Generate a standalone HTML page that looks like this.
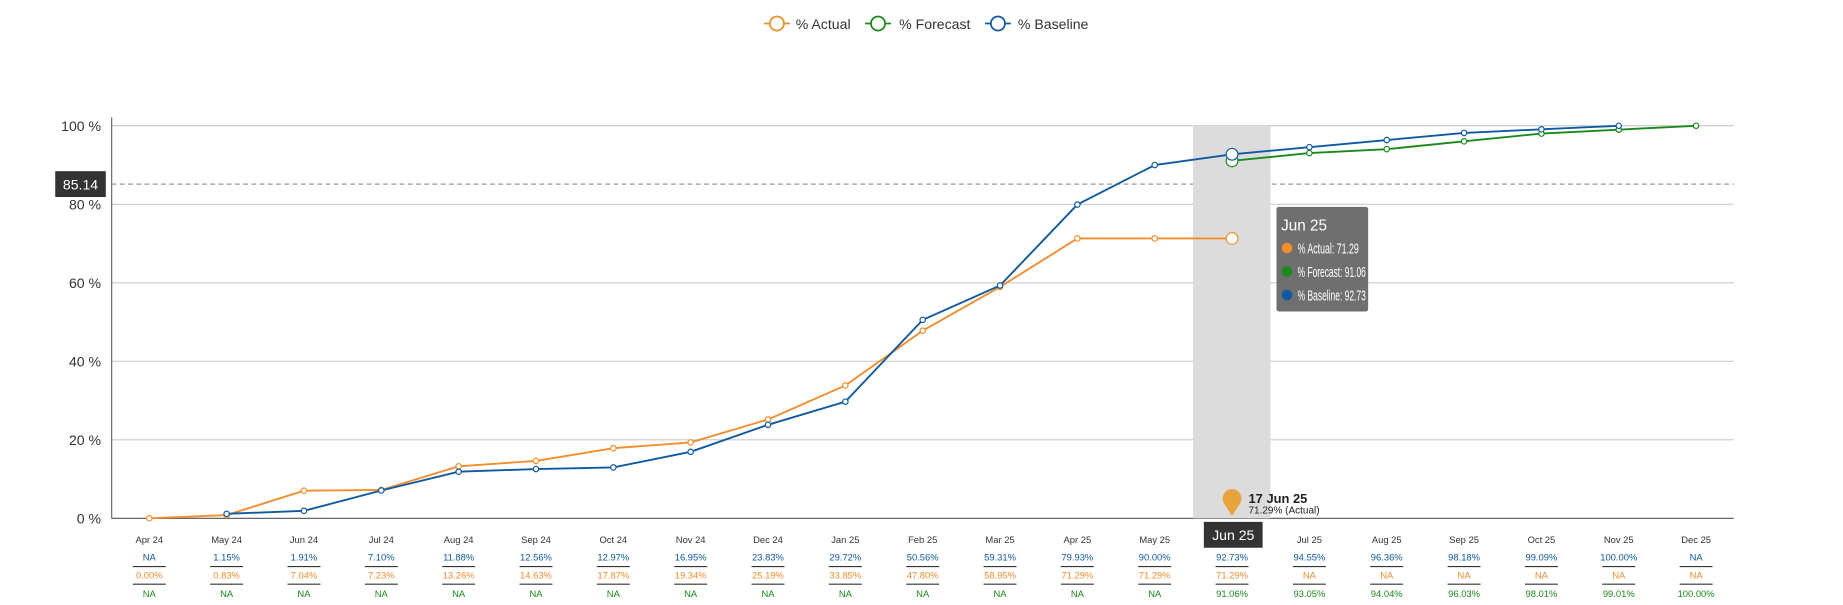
<!DOCTYPE html>
<html><head><meta charset="utf-8">
<style>
body{margin:0;background:#fff;font-family:"Liberation Sans",sans-serif;}
svg text{font-family:"Liberation Sans",sans-serif;}
</style></head>
<body>
<svg id="chart" width="1843" height="600" xmlns="http://www.w3.org/2000/svg">
<g transform="scale(1.1754)">
<g id="legend">
  <g><line x1="650" y1="20" x2="672" y2="20" stroke="#f28e2b" stroke-width="1.5"/><circle cx="661" cy="20" r="6" fill="#fff" stroke="#f28e2b" stroke-width="1.5"/><text x="677" y="24.5" font-size="12" fill="#333">% Actual</text></g>
  <g><line x1="736" y1="20" x2="758" y2="20" stroke="#1a8a1a" stroke-width="1.5"/><circle cx="747" cy="20" r="6" fill="#fff" stroke="#1a8a1a" stroke-width="1.5"/><text x="765" y="24.5" font-size="12" fill="#333">% Forecast</text></g>
  <g><line x1="838" y1="20" x2="860" y2="20" stroke="#0f5aa0" stroke-width="1.5"/><circle cx="849" cy="20" r="6" fill="#fff" stroke="#0f5aa0" stroke-width="1.5"/><text x="866" y="24.5" font-size="12" fill="#333">% Baseline</text></g>
</g>
<g id="grid"></g>
<rect x="1015" y="107" width="66" height="334" fill="#dcdcdc"/>
<g id="series"></g>
<g id="table"></g>
</g>
</svg>
<script>
const categories=["Apr 24","May 24","Jun 24","Jul 24","Aug 24","Sep 24","Oct 24","Nov 24","Dec 24","Jan 25","Feb 25","Mar 25","Apr 25","May 25","Jun 25","Jul 25","Aug 25","Sep 25","Oct 25","Nov 25","Dec 25"];
const actual=[0,0.83,7.04,7.23,13.26,14.63,17.87,19.34,25.19,33.85,47.80,58.95,71.29,71.29,71.29,null,null,null,null,null,null];
const forecast=[null,null,null,null,null,null,null,null,null,null,null,null,null,null,91.06,93.05,94.04,96.03,98.01,99.01,100];
const baseline=[null,1.15,1.91,7.10,11.88,12.56,12.97,16.95,23.83,29.72,50.56,59.31,79.93,90.00,92.73,94.55,96.36,98.18,99.09,100,null];
const yTicks=[0,20,40,60,80,100];
const refValue=85.14;
const hoverIndex=14;

const NS="http://www.w3.org/2000/svg";
const x=i=>127+i*65.8;
const y=v=>441-v*3.34;
function mk(tag,attrs,parent,txt){const e=document.createElementNS(NS,tag);for(const k in attrs)e.setAttribute(k,attrs[k]);if(txt!=null)e.textContent=txt;parent.appendChild(e);return e;}
const grid=document.getElementById('grid');
yTicks.forEach(t=>{
  const l=mk('line',{x1:95,x2:1475,y1:y(t),y2:y(t),stroke:t===0?'#666':'#ccc','stroke-width':1},grid);
  
  
  const tx=mk('text',{x:86,y:y(t)+4.5,'text-anchor':'end','font-size':12,fill:'#333'},grid,t+' %');
  
  
});
const ax=mk('line',{x1:95,x2:95,y1:100,y2:441,stroke:'#666'},grid);


const rl=mk('line',{x1:95,x2:1475,y1:y(refValue),y2:y(refValue),stroke:'#999','stroke-dasharray':'4,3'},grid);


const rb=mk('rect',{x:47,y:y(refValue)-11,width:43,height:22,fill:'#333'},grid);


const rt=mk('text',{x:68.5,y:y(refValue)+4.5,'text-anchor':'middle','font-size':12,fill:'#fff'},grid,refValue.toFixed(2));



const ser=document.getElementById('series');
function drawSeries(arr,color,name){
  let d='';arr.forEach((v,i)=>{if(v==null)return;d+=(d?'L':'M')+x(i)+','+y(v);});
  const p=mk('path',{d:d,fill:'none',stroke:color,'stroke-width':1.6},ser);
  
  
  arr.forEach((v,i)=>{if(v==null)return;const big=i===hoverIndex;
    const c=mk('circle',{cx:x(i),cy:y(v),r:big?5:2.3,fill:'#fff',stroke:color,'stroke-width':1},ser);
    
    });
}
drawSeries(actual,'#f28e2b','actual');
drawSeries(forecast,'#1a8a1a','forecast');
drawSeries(baseline,'#0f5aa0','baseline');

const hx=x(hoverIndex);
const pin=mk('path',{d:`M${hx},${y(0)-2} L${hx-7},${y(0)-13} A8,8 0 1,1 ${hx+7},${y(0)-13} Z`,fill:'#e8a33a'},ser);


const pt1=mk('text',{x:hx+14,y:y(0)-13,'font-size':11,'font-weight':'bold',fill:'#222'},ser,'17 Jun 25');


const pt2=mk('text',{x:hx+14,y:y(0)-4,'font-size':8.5,fill:'#222'},ser,actual[hoverIndex].toFixed(2)+'% (Actual)');



const tg=mk('g',{},ser);


mk('rect',{x:1086,y:176,width:78,height:89,rx:2,fill:'#6f6f6f'},tg);
mk('text',{x:1090,y:196,'font-size':13,fill:'#fff'},tg,categories[hoverIndex]);
[['#f28e2b','% Actual: ',actual],['#1a8a1a','% Forecast: ',forecast],['#0f5aa0','% Baseline: ',baseline]].forEach((r,k)=>{
  mk('circle',{cx:1095,cy:211+k*20,r:4.5,fill:r[0]},tg);
  const tt=r[1]+r[2][hoverIndex];
  mk('text',{x:1104,y:215.5+k*20,'font-size':12.5,fill:'#fff',textLength:k===0?52:58,lengthAdjust:'spacingAndGlyphs'},tg,tt);
});

const tb=document.getElementById('table');
function fmt(v){return v==null?'NA':v.toFixed(2)+'%';}
categories.forEach((c,i)=>{
  const cx=x(i);
  const t=mk('text',{x:cx,y:462,'text-anchor':'middle','font-size':8,fill:'#333'},tb,c);
  
  
  const b=mk('text',{x:cx,y:477,'text-anchor':'middle','font-size':8,fill:'#0f5aa0'},tb,fmt(baseline[i]));
  
  
  mk('line',{x1:cx-14,x2:cx+14,y1:482,y2:482,stroke:'#333','stroke-width':1},tb);
  const a=mk('text',{x:cx,y:492,'text-anchor':'middle','font-size':8,fill:'#f28e2b'},tb,fmt(actual[i]));
  
  
  mk('line',{x1:cx-14,x2:cx+14,y1:497,y2:497,stroke:'#333','stroke-width':1},tb);
  const f=mk('text',{x:cx,y:508,'text-anchor':'middle','font-size':8,fill:'#1a8a1a'},tb,fmt(forecast[i]));
  
  
});
const hb=mk('rect',{x:hx-24,y:444,width:50,height:22,fill:'#333'},tb);


const ht=mk('text',{x:hx+1,y:459.5,'text-anchor':'middle','font-size':12,fill:'#fff'},tb,categories[hoverIndex]);


</script>
</body></html>
